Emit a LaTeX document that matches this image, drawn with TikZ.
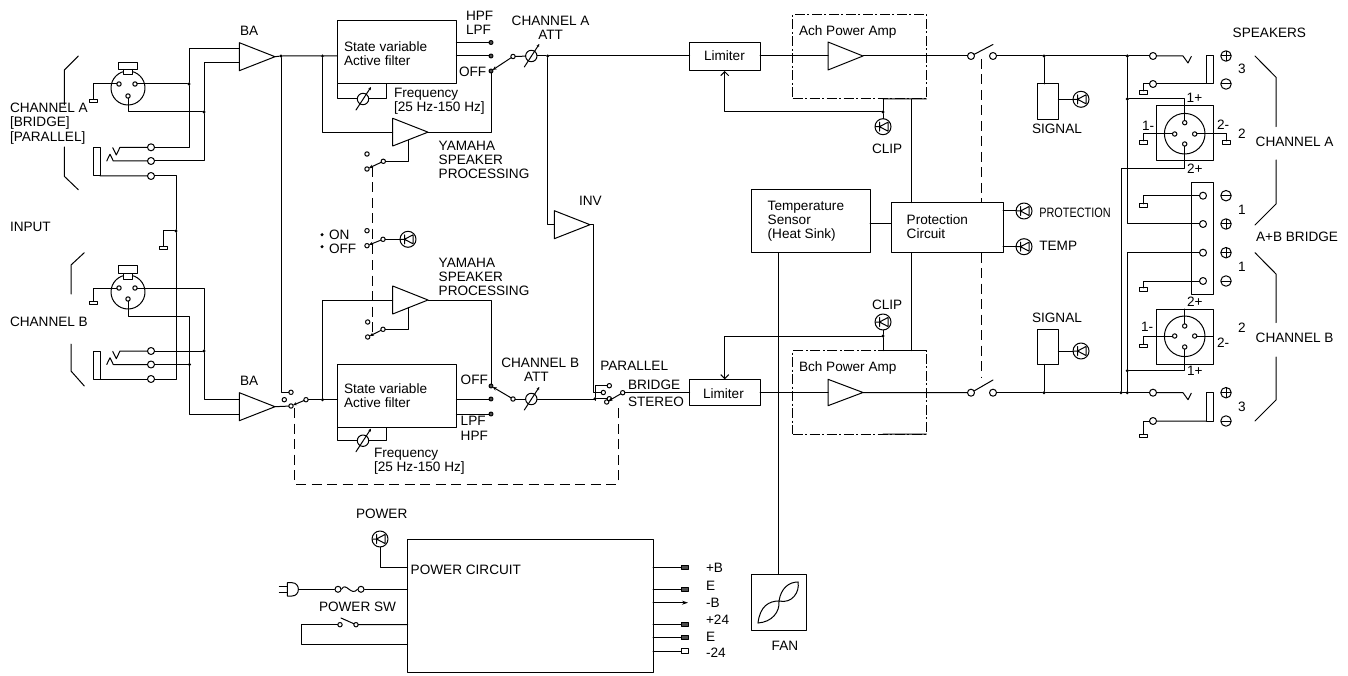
\documentclass[tikz,border=0pt]{standalone}
\usepackage{fontspec}
\usepackage{graphicx}
\setmainfont{Liberation Sans}
\usetikzlibrary{arrows.meta}
\newcounter{lbc}
\tikzset{
  wire/.style={line width=1pt,line cap=round,line join=round},
  lbl/.style={anchor=base west,inner sep=0pt,outer sep=0pt,font=\fontsize{13.6}{14}\selectfont},
  term/.style={circle,draw,wire,fill=white,minimum size=7pt,inner sep=0pt,outer sep=0pt},
  cont/.style={circle,draw,wire,fill=white,minimum size=4.4pt,inner sep=0pt,outer sep=0pt},
  dt/.style={circle,draw,wire,fill=gray!60!black,minimum size=4pt,inner sep=0pt,outer sep=0pt},
  jn/.style={circle,fill=black,minimum size=3.4pt,inner sep=0pt,outer sep=0pt},
  blk/.style={draw,wire,rectangle,inner sep=0pt,outer sep=0pt},
  gnd/.style={draw,wire,rectangle,minimum width=8pt,minimum height=3.2pt,inner sep=0pt,outer sep=0pt},
  tmf/.style={draw,wire,rectangle,fill=gray!60!black,minimum width=7pt,minimum height=3.6pt,inner sep=0pt,outer sep=0pt},
  tmo/.style={draw,wire,rectangle,fill=white,minimum width=7pt,minimum height=4.6pt,inner sep=0pt,outer sep=0pt},
  dsh/.style={line width=1pt,line cap=butt,dash pattern=on 10pt off 5.5pt},
  dd/.style={line cap=butt,dash pattern=on 10pt off 2.5pt on 2pt off 2.5pt},
  ledn/.style={circle,draw,wire,minimum size=16pt,inner sep=0pt,outer sep=0pt,
    path picture={\begin{scope}[shift={(path picture bounding box.center)}]
      \draw[wire] (-8,0)--(-3.5,0) (-3.5,-4.5)--(-3.5,4.5) (-3.5,0)--(5,-4.5)--(5,4.5)--cycle;
      \end{scope}}},
  plusn/.style={circle,draw,wire,minimum size=10.5pt,inner sep=0pt,outer sep=0pt,
    path picture={\draw[wire] (path picture bounding box.west)--(path picture bounding box.east)
      (path picture bounding box.north)--(path picture bounding box.south);}},
  minusn/.style={circle,draw,wire,minimum size=10.5pt,inner sep=0pt,outer sep=0pt,
    path picture={\draw[wire] (path picture bounding box.west)--(path picture bounding box.east);}},
  potn/.style={circle,draw,wire,minimum size=11.4pt,inner sep=0pt,outer sep=0pt},
  blade/.style={{Stealth[length=4pt,width=3.5pt]}-},
}
\newcommand\Lb[3]{\stepcounter{lbc}\node[lbl] (t\thelbc) at (#1,#2) {#3};}
\newcommand\Bk[6][]{\pgfmathsetmacro\wB{#5-#3}\pgfmathsetmacro\hB{#6-#4}\node[blk,#1,minimum width=\wB pt,minimum height=\hB pt,anchor=north west] (#2) at (#3,#4) {};}
\newcommand\Am[5]{\pgfmathsetmacro\yM{(#3+#4)/2}\draw[wire] (#2,#3)--(#2,#4)--(#5,\yM)--cycle;\coordinate (#1) at (#5,\yM);\coordinate (#1-l) at (#2,\yM);}
\newcommand\Po[3]{\node[potn] (#1) at (#2,#3) {};\draw[wire,-{Stealth[length=3pt,width=3pt]}] ([shift={(-7,11)}]#1.center)--([shift={(8,-12)}]#1.center);}
\newcommand\Te[3]{\node[term] (#1) at (#2,#3) {};}
\newcommand\Ct[3]{\node[cont] (#1) at (#2,#3) {};}
\newcommand\Dt[3]{\node[dt] (#1) at (#2,#3) {};}
\newcommand\Jn[3]{\node[jn] (#1) at (#2,#3) {};}
\newcommand\Gd[3]{\node[gnd] (#1) at (#2,#3) {};}
\newcommand\Ld[3]{\node[ledn] (#1) at (#2,#3) {};}
\newcommand\Cd[3]{\coordinate (#1) at (#2,#3);}
\begin{document}
\begin{tikzpicture}[x=1pt,y=-1pt]
\useasboundingbox (0,0) rectangle (1348,676);
\begin{scope}[wire]
% ---------- left XLR A
\node[circle,draw,minimum size=34pt,inner sep=0pt] (xa) at (128,88) {};
\draw[fill=white] (123,69.5)--(123,75)--(132,75)--(132,69.5);
\draw (118,63) rectangle (137,69.5);
\Ct{xal}{119}{84}\Ct{xar}{135}{84}\Ct{xab}{128}{96}
\Gd{gxa}{93}{101}
\draw (xal) -| (gxa.north);
\Jn{j1}{189}{84}\Jn{j2}{204}{112}
\draw (xar) -- (j1);
\draw (xab) |- (j2);
% jack A
\Bk{jka}{93}{147.3}{100}{176}
\Te{ca1}{151}{147.3}\Te{ca2}{151}{161}\Te{ca3}{151}{176}
\draw (ca1)--(120,147.3)--(116.3,155)--(112.7,147.7);
\draw (ca2)--(113.3,161)--(110,154.3)--(106.7,161);
\draw (ca3)--(jka.south east);
\Am{ba}{239.3}{42.7}{70.7}{275}
\Cd{bai1}{239.3}{49}\Cd{bai2}{239.3}{63}
\draw (ca1) -| (j1); \draw (j1) |- (bai1);
\draw (ca2) -| (j2); \draw (j2) |- (bai2);
% ---------- left XLR B
\node[circle,draw,minimum size=34pt,inner sep=0pt] (xb) at (128,292) {};
\draw[fill=white] (123,273.5)--(123,279)--(132,279)--(132,273.5);
\draw (118,265.7) rectangle (137,273.5);
\Ct{xbl}{119}{288}\Ct{xbr}{135}{288}\Ct{xbb}{128}{299}
\Gd{gxb}{93}{303}
\draw (xbl) -| (gxb.north);
\Bk{jkb}{93}{351}{100}{379}
\Te{cb1}{151}{351}\Te{cb2}{151}{364.5}\Te{cb3}{151}{379}
\draw (cb1)--(120,351)--(116.3,358.7)--(112.7,351.4);
\draw (cb2)--(113.3,364.5)--(110,357.8)--(106.7,364.5);
\draw (cb3)--(jkb.south east);
\Jn{j4}{204}{351}\Jn{j5}{189.5}{364.5}\Cd{kb}{189.5}{316}
\Am{bb}{239.3}{392.7}{420.7}{275}
\Cd{bbi1}{239.3}{399}\Cd{bbi2}{239.3}{414}
\draw (xbr) -| (j4); \draw (cb1)--(j4); \draw (j4) |- (bbi1);
\draw (xbb) |- (kb) -- (j5); \draw (cb2)--(j5); \draw (j5) |- (bbi2);
% shield bus
\Jn{jin}{176}{231}\Gd{gin}{163}{248}
\draw (ca3) -| (jin); \draw (cb3) -| (jin); \draw (jin) -| (gin.north);
% brackets
\draw (78.3,56)--(64.3,70)--(64.3,105);
\draw (64.3,147)--(64.3,176.3)--(78.3,189.7);
\draw (84.3,252.7)--(71,265)--(71,294);
\draw (71,344)--(71,371)--(84.3,386);
% ---------- filter A
\Bk{sva}{337.7}{20.7}{456.3}{84}
\Bk{svb}{337.7}{364.3}{456.3}{427.7}
\Jn{j6}{281}{56}\Jn{j7}{322.5}{56}
\Ct{swb1}{291}{392.3}\Ct{swb2}{284.3}{399.7}\Ct{swb3}{291}{406}\Ct{swb4}{306}{399.7}
\draw (ba)--(j6)--(j7)--(j7 -| sva.west);
\draw (j6) |- (swb1);
\draw (bb)--(swb3);
\draw[blade] (swb3)--(swb4);
\Jn{j8}{322.5}{399.7}
\draw (swb4)--(j8)--(j8 -| svb.west);
\Am{ya}{392.7}{118.3}{146}{428}
\Am{yb}{392.7}{286}{314}{428}
\draw (j7) |- (ya-l);
\draw (j8) |- (yb-l);
\Po{pfa}{363}{99}
\Cd{fa2}{386.3}{84}
\draw (sva.south west) |- (pfa); \draw (pfa) -| (fa2);
\Po{pfb}{363}{440.7}
\Cd{fb2}{386.3}{427.7}
\draw (svb.south west) |- (pfb); \draw (pfb) -| (fb2);
\Dt{dha}{491}{42.5}\Dt{dla}{491}{56}\Dt{dofa}{491}{71}
\draw (dha -| sva.east)--(dha); \draw (dla -| sva.east)--(dla);
\draw (dofa) |- (ya);
\Dt{dhb}{491}{414}\Dt{dlb}{491}{399}\Dt{dofb}{491}{386}
\draw (dhb -| svb.east)--(dhb); \draw (dlb -| svb.east)--(dlb);
\draw (dofb) |- (yb);
\Ct{mca}{513}{56.5}\Ct{mcb}{513}{399}
\draw[blade] (dofa)--(mca);
\draw[blade] (dofb)--(mcb);
\Po{pata}{531.3}{56}\Po{patb}{531.3}{399}
\Jn{j9}{547.7}{56}
\draw (mca)--(pata); \draw (mcb)--(patb);
\draw (pata)--(j9);
% yamaha switches
\Ct{ysa1}{367}{154}\Ct{ysa2}{367}{169}\Ct{ysa3}{383.3}{161.3}\Cd{ysa4}{408}{140.3}
\draw[blade] (ysa2)--(ysa3); \draw (ysa3) -| (ysa4);
\Ct{onn1}{367}{230.7}\Ct{onn2}{367}{245.7}\Ct{onn3}{383}{239.3}\Ld{ldon}{408}{239.3}
\draw[blade] (onn2)--(onn3); \draw (onn3)--(ldon);
\Ct{ysb1}{367.7}{322}\Ct{ysb2}{367.7}{337}\Ct{ysb3}{383}{329.3}\Cd{ysb4}{408}{307.3}
\draw[blade] (ysb2)--(ysb3); \draw (ysb3) -| (ysb4);
\Cd{dv1}{372.7}{167}\Cd{dv2}{372.7}{333}
\draw[dsh] (dv1)--(dv2);
\Jn{on}{322}{234.7}\Jn{off}{322}{246.7}
% INV
\Am{inv}{554.3}{210.7}{238.7}{590}
\Cd{invc}{593}{224.7}
\draw (j9) |- (inv-l);
\Ct{swc1}{603.3}{392.5}\Ct{swc2}{609.3}{385.7}\Ct{swc0}{606.7}{402}\Ct{swc3}{622.7}{392.7}\Ct{swc4}{609.3}{398.7}
\draw (inv)--(invc) |- (swc1);
\Jn{j10}{595}{398.7}
\draw (patb)--(patb -| j10)--(j10)--(swc4);
\draw[blade] (swc0)--(swc3);
\draw (j10) |- (swc2);
% dashed mode
\Cd{ds1}{294.7}{408}\Cd{ds2}{618}{484}\Cd{ds3}{618}{405}
\draw[dsh] (ds1) |- (ds2) -- (ds3);
% ---------- limiters, amps
\Bk{lima}{689.7}{42.7}{760}{71}
\Bk{limb}{689.7}{379.3}{760}{405.7}
\Bk[dd]{pwa}{792.7}{14.3}{926.3}{99}
\Bk[dd]{pwb}{792.7}{350.7}{926.3}{434}
\Cd{pa1}{883}{99}\Cd{pb1}{883}{350.7}\Cd{pa2}{911}{99}\Cd{pb2}{911}{350.7}
\draw (pa1)--(pwa.south east); \draw (pb1)--(pb2 -| pwb.east); 
\draw (883,434)--(pwb.south east);
\Am{aa}{828}{42}{70}{863}
\Am{ab}{828}{379.3}{405.7}{863}
\draw (j9)--(j9 -| lima.west);
\draw (swc3)--(swc3 -| limb.west);
\draw (j9 -| lima.east)--(j9 -| aa-l);
\draw (swc3 -| limb.east)--(swc3 -| ab-l);
\Te{swa1}{971}{56}\Te{swa2}{993}{56}\Cd{swa3}{993}{44.5}
\Te{swd1}{971}{392.7}\Te{swd2}{993}{392.7}\Cd{swd3}{993}{380}
\draw (aa)--(swa1); \draw (swa1)--(swa3);
\draw (ab)--(swd1); \draw (swd1)--(swd3);
% blocks
\Bk{tmp}{751.3}{189.3}{870}{252.7}
\Bk{prot}{891}{202.7}{1003}{252.7}
\draw (tmp.east |- 0,224)--(prot.west |- 0,224);
\draw (pa2)--(pa2 |- prot.north);
\draw (pb2)--(pb2 |- prot.south);
\Cd{da1}{981.3}{59}\Cd{db1}{981.3}{378}
\draw[dsh] (da1)--(da1 |- prot.north);
\draw[dsh] (db1 |- prot.south)--(db1);
\Jn{jcl1}{883}{112}\Ld{lcl1}{883}{126.7}\Cd{lmai}{724.7}{71}
\draw (pa1)--(jcl1)--(lcl1);
\draw[-{Straight Barb[length=4pt,width=8pt]}] (jcl1) -| (lmai);
\Jn{jcl2}{883}{336}\Ld{lcl2}{883}{322}\Cd{lmbi}{724.7}{379.3}
\draw (pb1)--(jcl2)--(lcl2);
\draw[-{Straight Barb[length=4pt,width=8pt]}] (jcl2) -| (lmbi);
\Ld{lpr}{1024}{211}\Ld{ltp}{1024}{246.7}
\draw (lpr -| prot.east)--(lpr); \draw (ltp -| prot.east)--(ltp);
% fan
\Bk{fan}{751}{574}{806.7}{630.7}
\Cd{fant}{778}{252.7}
\draw (fant)--(fant |- fan.north);
\Cd{fn1}{758}{623}\Cd{fn2}{779}{601}\Cd{fn3}{798}{582}
\draw (fn1) .. controls (760,606) and (769,601) .. (fn2) .. controls (781,588) and (789,582) .. (fn3);
\draw (fn1) .. controls (772,622) and (780,612) .. (fn2) .. controls (792,604) and (800,592) .. (fn3);
% ---------- output A
\Jn{ja}{1044}{56}\Jn{jb}{1127.3}{56}\Te{spa1}{1153}{56}
\draw (swa2)--(ja)--(jb)--(spa1);
\draw (spa1)--(1183,56)--(1188,63)--(1191.3,56.5);
\Bk{sga}{1037.7}{84}{1058.3}{119.3}
\Ld{lsa}{1081}{99.3}
\draw (ja)--(ja |- sga.north);
\draw (lsa -| sga.east)--(lsa);
\Bk{jra}{1206}{56}{1213}{84}
\Te{spa2}{1153}{84}\Gd{gsa}{1143}{92.5}
\draw (spa2)--(jra.south west);
\draw (spa2) -| (gsa.north);
\Bk{qa}{1156.3}{106}{1213}{161}
\node[circle,draw,minimum size=40.6pt,inner sep=0pt] (qac) at (1184.7,133.7) {};
\Ct{qat}{1184.7}{122.7}\Ct{qab}{1184.7}{144}\Ct{qal}{1174.7}{134}\Ct{qar}{1194.7}{134}
\Gd{gql}{1143}{142.5}\Gd{gqr}{1226}{142.5}
\draw (qal) -| (gql.north); \draw (qar) -| (gqr.north);
\Jn{jc}{1127.3}{99}
\draw (jb)--(jc);
\draw (qat) |- (jc);
% strip
\Bk{str}{1191.3}{182.7}{1213}{294}
\Te{s1}{1203}{195.7}\Te{s2}{1203}{224}\Te{s3}{1203}{252.7}\Te{s4}{1203}{281}
\Gd{gs1}{1143}{205.5}\Gd{gs4}{1143}{289.5}
\draw (s1) -| (gs1.north); \draw (s4) -| (gs4.north);
\draw (jc) |- (s2);
% ---------- output B
\Jn{jsb}{1044}{392.7}\Jn{jd}{1121}{392.7}\Jn{je}{1127.3}{392.7}\Te{spb1}{1153}{392.7}
\draw (swd2)--(jsb)--(jd)--(je)--(spb1);
\draw (spb1)--(1183,392.7)--(1188,399.7)--(1191.3,393.2);
\Cd{k2}{1121}{169}
\draw (qab) |- (k2) -- (jd);
\draw (s3) -| (je);
\Bk{sgb}{1037.7}{329}{1058.3}{364.3}
\Ld{lsb}{1081}{351}
\draw (jsb)--(jsb |- sgb.south);
\draw (lsb -| sgb.east)--(lsb);
\Bk{jrb}{1206}{392.7}{1213}{421}
\Te{spb2}{1153}{421}\Gd{gsb}{1143}{436}
\draw (spb2)--(jrb.south west);
\draw (spb2) -| (gsb.north);
\Bk{qb}{1156.3}{309}{1213}{364.3}
\node[circle,draw,minimum size=40.6pt,inner sep=0pt] (qbc) at (1184.7,336.3) {};
\Ct{qbt}{1184.7}{326}\Ct{qbb}{1184.7}{347}\Ct{qbl}{1174.7}{336}\Ct{qbr}{1194.7}{336}
\Gd{gqbl}{1143}{346}
\draw (qbl) -| (gqbl.north);
\draw (qbr)--(qbr -| qb.east);
\draw (qbt)--(qbt |- qb.north);
\Jn{jf}{1127.3}{370.7}
\draw (qbb) |- (jf);
% + - marks
\node[plusn] (m1) at (1226,56) {};\node[minusn] (m2) at (1226,84) {};
\node[minusn] (m3) at (1226,195.7) {};\node[plusn] (m4) at (1226,224) {};
\node[plusn] (m5) at (1226,252.7) {};\node[minusn] (m6) at (1226,281) {};
\node[plusn] (m7) at (1226,392.7) {};\node[minusn] (m8) at (1226,421) {};
% right brackets
\draw (1255,56)--(1276,77.3)--(1276,126.7);
\draw (1276,160)--(1276,204)--(1255,225);
\draw (1255,252.7)--(1276,274)--(1276,322.7);
\draw (1276,357)--(1276,400)--(1255,421);
% ---------- power
\Bk{pc}{407.7}{539}{653}{672.7}
\Ld{lpw}{380}{539}\Cd{pi1}{407.7}{567.7}
\draw (lpw) |- (pi1);
\draw (279.3,586)--(287.3,586) (279.3,592.7)--(287.3,592.7);
\draw (287.3,582.7)--(292,582.7) .. controls (300.5,582.7) and (300.5,596) .. (292,596)--(287.3,596)--cycle;
\Cd{plg}{298.4}{589.3}
\node[circle,draw,fill=white,minimum size=6pt,inner sep=0pt] (fu1) at (338,589.3) {};
\node[circle,draw,fill=white,minimum size=6pt,inner sep=0pt] (fu2) at (361,589.3) {};
\Cd{pi2}{407.7}{589.3}
\draw (plg)--(fu1);
\draw (fu1.east) .. controls (346,581) and (351,597) .. (fu2.west);
\draw (fu2)--(pi2);
\Ct{ps1}{340}{624.7}\Ct{ps2}{356}{624.7}\Cd{ps3}{341}{618}\Cd{pi3}{407.7}{624.7}\Cd{pi4}{407.7}{644.3}\Cd{ps4}{301}{624.7}
\draw (ps3)--(ps2)--(pi3);
\draw (ps1)--(ps4) |- (pi4);
\node[tmf] (o1) at (684.5,567.3) {};
\node[tmf] (o2) at (684.5,589.3) {};
\Cd{o3}{688}{602.7}
\node[tmf] (o4) at (684.5,624.3) {};
\node[tmf] (o5) at (684.5,637.7) {};
\node[tmo] (o6) at (684.5,651) {};
\draw (o1 -| pc.east)--(o1);\draw (o2 -| pc.east)--(o2);
\draw[-{Stealth[length=6pt,width=4pt]}] (o3 -| pc.east)--(o3);
\draw (o4 -| pc.east)--(o4);\draw (o5 -| pc.east)--(o5);\draw (o6 -| pc.east)--(o6);
\end{scope}
% ---------- labels
\Lb{10}{112.7}{CHANNEL A}\Lb{10}{127}{[BRIDGE]}\Lb{10}{141.7}{[PARALLEL]}
\Lb{10}{232}{INPUT}\Lb{10}{326}{CHANNEL B}
\Lb{240}{36}{BA}\Lb{240}{385}{BA}
\Lb{344}{51.7}{State variable}\Lb{344}{65.7}{Active filter}
\Lb{344}{393.3}{State variable}\Lb{344}{407.3}{Active filter}
\Lb{394}{98}{Frequency}\Lb{394}{111.7}{[25 Hz-150 Hz]}
\Lb{374}{457.7}{Frequency}\Lb{374}{471.7}{[25 Hz-150 Hz]}
\Lb{466}{21}{HPF}\Lb{466}{34.7}{LPF}\Lb{459}{76.7}{OFF}
\Lb{460.7}{384}{OFF}\Lb{460.7}{425.7}{LPF}\Lb{460.7}{440}{HPF}
\Lb{438.7}{150.7}{YAMAHA}\Lb{438.7}{164.7}{SPEAKER}\Lb{438.7}{178.7}{PROCESSING}
\Lb{438.7}{267}{YAMAHA}\Lb{438.7}{281}{SPEAKER}\Lb{438.7}{295}{PROCESSING}
\Lb{511.7}{26}{CHANNEL A}\Lb{538.3}{40}{ATT}
\Lb{501.3}{367.3}{CHANNEL B}\Lb{524}{381}{ATT}
\Lb{329}{240}{ON}\Lb{329}{254}{OFF}
\Lb{579}{206}{INV}
\Lb{600.3}{370.7}{PARALLEL}\Lb{628}{389}{BRIDGE}\Lb{628}{406.7}{STEREO}
\Lb{704}{61}{Limiter}\Lb{703}{398}{Limiter}
\Lb{799}{36}{Ach Power Amp}\Lb{799}{371}{Bch Power Amp}
\Lb{872}{154}{CLIP}\Lb{872}{309.3}{CLIP}
\Lb{767.7}{211}{Temperature}\Lb{767.7}{225}{Sensor}\Lb{767.7}{239}{(Heat Sink)}
\Lb{906.7}{225}{Protection}\Lb{906.7}{239}{Circuit}
\Lb{1039.3}{217.3}{\scalebox{0.8}[1]{PROTECTION}}\Lb{1039.3}{251}{TEMP}
\Lb{1032}{134}{SIGNAL}\Lb{1032}{322.7}{SIGNAL}
\Lb{1232.7}{37.7}{SPEAKERS}
\Lb{1238}{74}{3}\Lb{1238}{138.3}{2}\Lb{1238}{215}{1}\Lb{1238}{271.7}{1}\Lb{1238}{332.7}{2}\Lb{1238}{411.7}{3}
\Lb{1255.7}{146.7}{CHANNEL A}\Lb{1256}{241}{A+B BRIDGE}\Lb{1255.7}{342.7}{CHANNEL B}
\Lb{1186.7}{103}{1+}\Lb{1187}{174}{2+}\Lb{1142}{130.7}{1-}\Lb{1217}{130}{2-}
\Lb{1187}{306.7}{2+}\Lb{1187}{375.7}{1+}\Lb{1141}{331.7}{1-}\Lb{1217}{347}{2-}
\Lb{356}{518}{POWER}\Lb{410.7}{574}{POWER CIRCUIT}\Lb{319}{611.7}{POWER SW}
\Lb{706}{572.7}{+B}\Lb{706}{590}{E}\Lb{706}{607.3}{-B}\Lb{706}{624}{+24}\Lb{706}{641}{E}\Lb{706}{657.7}{-24}
\Lb{771.7}{650}{FAN}
\end{tikzpicture}
\end{document}
